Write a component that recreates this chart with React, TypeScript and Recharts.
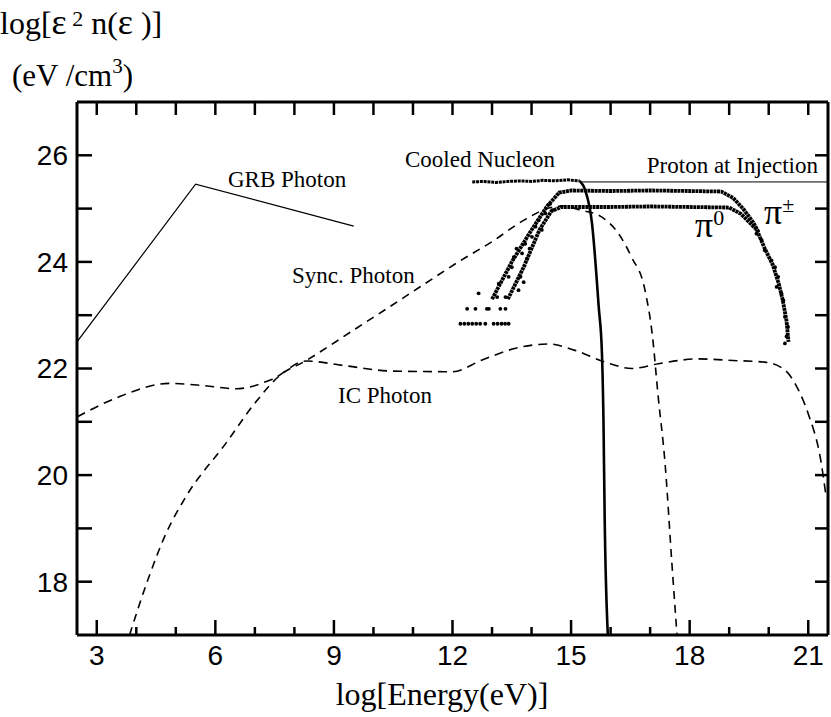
import React from 'react'
import { ComposedChart, Line, Scatter, XAxis, YAxis } from 'recharts'

type Pt = [number, number]

const X_DOMAIN: Pt = [2.5, 21.5]
const Y_DOMAIN: Pt = [17, 27]
const X_TICKS = [3, 4, 5, 6, 7, 8, 9, 10, 11, 12, 13, 14, 15, 16, 17, 18, 19, 20, 21]
const X_LABELS = [3, 6, 9, 12, 15, 18, 21]
const Y_TICKS = [18, 19, 20, 21, 22, 23, 24, 25, 26]

// log E (eV) vs log[e^2 n(e)]
const GRB_PHOTON: Pt[] = [
  [2.5, 22.5],
  [5.5, 25.46],
  [9.5, 24.67],
]

const SYNC_PHOTON: Pt[] = [
  [3.83, 17], [4.3, 18.05], [4.75, 18.9], [5.26, 19.6], [6.27, 20.6], [7.0, 21.35],
  [7.6, 21.85], [8.3, 22.15], [9.6, 22.77], [10.6, 23.25], [11.3, 23.59], [12.15, 24.0],
  [13.0, 24.38], [13.8, 24.78], [14.4, 25.0], [14.8, 25.05], [15.2, 24.98], [15.78, 24.84],
  [16.2, 24.53], [16.53, 24.09], [16.87, 23.47], [17.06, 22.6], [17.2, 21.5], [17.38, 20.2],
  [17.55, 18.35], [17.68, 17],
]

const IC_PHOTON: Pt[] = [
  [2.5, 21.09], [3.5, 21.45], [4.84, 21.72], [5.7, 21.68], [6.52, 21.62], [7.44, 21.8],
  [8.29, 22.14], [9.3, 22.05], [10.5, 21.95], [12.0, 21.94], [12.75, 22.16], [13.6, 22.38],
  [14.43, 22.46], [15.1, 22.34], [15.86, 22.12], [16.54, 22.0], [17.21, 22.09], [18.22, 22.18],
  [19.1, 22.15], [19.9, 22.12], [20.41, 21.97], [20.75, 21.6], [21.0, 21.15], [21.33, 20.22],
  [21.45, 19.6],
]

const COOLED_NUCLEON: Pt[] = [
  [12.5, 25.5], [12.8, 25.51], [13.1, 25.49], [13.4, 25.51], [13.7, 25.52], [14.0, 25.51],
  [14.3, 25.53], [14.6, 25.52], [14.9, 25.54], [15.22, 25.52],
]

const NUCLEON_CUTOFF: Pt[] = [
  [15.22, 25.52], [15.36, 25.34], [15.53, 24.72], [15.7, 23.15], [15.78, 22.3], [15.82, 21.0],
  [15.85, 19.2], [15.93, 17],
]

const PROTON_INJECTION: Pt[] = [
  [15.23, 25.5],
  [21.5, 25.5],
]

const PI_CHARGED: Pt[] = [
  [13.0, 23.3], [13.5, 24.0], [14.0, 24.6], [14.4, 25.05], [14.7, 25.3], [15.0, 25.34],
  [16.0, 25.33], [17.0, 25.34], [18.0, 25.33], [18.8, 25.32], [19.1, 25.2], [19.35, 25.0],
  [19.6, 24.75], [19.75, 24.55],
]

const PI_NEUTRAL: Pt[] = [
  [13.4, 23.3], [13.8, 23.9], [14.2, 24.6], [14.5, 24.95], [14.75, 25.03], [16.0, 25.03],
  [17.0, 25.04], [18.0, 25.03], [19.0, 25.02], [19.3, 24.9], [19.5, 24.75], [19.7, 24.6],
  [19.9, 24.25], [20.1, 23.95], [20.25, 23.6], [20.35, 23.3], [20.45, 22.9], [20.5, 22.5],
]

const PI_SCATTER: Pt[] = [
  [12.2, 22.84], [12.3, 22.84], [12.4, 22.84], [12.5, 22.84], [12.6, 22.84], [12.7, 22.84],
  [12.83, 22.84], [13.04, 22.84], [13.14, 22.84], [13.24, 22.84], [13.33, 22.84], [13.42, 22.84],
  [12.37, 23.12], [12.58, 23.12], [12.87, 23.12], [12.92, 23.12], [13.21, 23.12], [13.34, 23.12],
  [12.66, 23.41], [13.17, 23.59], [13.13, 23.34], [13.34, 23.34], [13.42, 23.72], [13.5, 23.9],
  [13.67, 23.47], [13.72, 23.72], [13.8, 23.62], [13.55, 24.09], [13.76, 24.16], [13.88, 24.06],
  [13.84, 24.34], [14.01, 24.47], [14.1, 24.66], [14.26, 24.6], [14.18, 24.78], [14.35, 24.91],
  [14.47, 25.09], [14.52, 24.97], [13.62, 24.25], [13.95, 24.25],
  [19.69, 24.53], [19.82, 24.41], [19.9, 24.22], [20.07, 24.03], [20.16, 23.9], [20.24, 23.72],
  [20.2, 23.53], [20.32, 23.41], [20.37, 23.28], [20.41, 22.97], [20.49, 22.78], [20.45, 22.6],
  [20.41, 22.47],
]

const rows = (pts: Pt[]) => pts.map(([x, y]) => ({ x, y }))

const SERIF = '"Liberation Serif", "Times New Roman", serif'
const SANS = '"Liberation Sans", Arial, sans-serif'

function BottomTick(props: any) {
  const { x, y, payload } = props
  const major = X_LABELS.includes(payload.value)
  return (
    <g>
      <line x1={x} x2={x} y1={y} y2={y - (major ? 15 : 8)} stroke="#000" strokeWidth={2.5} />
      {major && (
        <text x={x} y={y + 30} textAnchor="middle" fontSize={28} fontFamily={SANS} fill="#000">
          {payload.value}
        </text>
      )}
    </g>
  )
}

const noLabel = () => ''
const dot = (p: any) => <circle cx={p.cx} cy={p.cy} r={1.9} fill="#000" />

export default function App() {
  return (
    <div style={{ position: 'absolute', left: 0, top: 0, width: 831, height: 717, background: '#fff' }}>
      <ComposedChart width={831} height={717} margin={{ top: 100, right: 0, bottom: 0, left: 0 }}>
        <XAxis
          dataKey="x"
          type="number"
          domain={X_DOMAIN}
          allowDataOverflow
          ticks={X_TICKS}
          interval={0}
          height={82}
          tickSize={0}
          tickMargin={0}
          tickLine={false}
          tick={<BottomTick />}
          axisLine={{ stroke: '#000', strokeWidth: 3 }}
        />
        <XAxis
          xAxisId="top"
          dataKey="x"
          orientation="top"
          type="number"
          domain={X_DOMAIN}
          allowDataOverflow
          ticks={X_TICKS}
          interval={0}
          height={2}
          tickSize={-13}
          tickFormatter={noLabel}
          tick={{ fontSize: 1 }}
          tickLine={{ stroke: '#000', strokeWidth: 2.5 }}
          axisLine={{ stroke: '#000', strokeWidth: 3 }}
        />
        <YAxis
          type="number"
          domain={Y_DOMAIN}
          allowDataOverflow
          ticks={Y_TICKS}
          interval={0}
          width={77}
          tickSize={-15}
          tickMargin={24}
          tickFormatter={(v: number) => (v % 2 === 0 ? String(v) : '')}
          tick={{ fontSize: 28, fontFamily: SANS, fill: '#000' }}
          tickLine={{ stroke: '#000', strokeWidth: 2.5 }}
          axisLine={{ stroke: '#000', strokeWidth: 3 }}
        />
        <YAxis
          yAxisId="right"
          orientation="right"
          type="number"
          domain={Y_DOMAIN}
          allowDataOverflow
          ticks={Y_TICKS}
          interval={0}
          width={3}
          tickSize={-13}
          tickFormatter={noLabel}
          tick={{ fontSize: 1 }}
          tickLine={{ stroke: '#000', strokeWidth: 2.5 }}
          axisLine={{ stroke: '#000', strokeWidth: 3 }}
        />

        <Line data={rows(GRB_PHOTON)} dataKey="y" type="linear" stroke="#000" strokeWidth={1.2} dot={false} isAnimationActive={false} />
        <Line data={rows(SYNC_PHOTON)} dataKey="y" type="monotone" stroke="#000" strokeWidth={1.6} strokeDasharray="8 6" dot={false} isAnimationActive={false} />
        <Line data={rows(IC_PHOTON)} dataKey="y" type="monotone" stroke="#000" strokeWidth={1.6} strokeDasharray="9 6" dot={false} isAnimationActive={false} />
        <Line
          data={rows(PROTON_INJECTION)}
          xAxisId="top"
          yAxisId="right"
          dataKey="y"
          type="linear"
          stroke="#000"
          strokeWidth={1}
          dot={false}
          isAnimationActive={false}
        />
        <Line data={rows(COOLED_NUCLEON)} dataKey="y" type="linear" stroke="#000" strokeWidth={3} strokeDasharray="3 0.8" dot={false} isAnimationActive={false} />
        <Line data={rows(NUCLEON_CUTOFF)} dataKey="y" type="monotone" stroke="#000" strokeWidth={2.6} dot={false} isAnimationActive={false} />
        <Line data={rows(PI_CHARGED)} dataKey="y" type="linear" stroke="#000" strokeWidth={3.8} strokeDasharray="3 0.6" dot={false} isAnimationActive={false} />
        <Line data={rows(PI_NEUTRAL)} dataKey="y" type="linear" stroke="#000" strokeWidth={3.8} strokeDasharray="3 0.6" dot={false} isAnimationActive={false} />
        <Scatter data={rows(PI_SCATTER)} dataKey="y" fill="#000" shape={dot} isAnimationActive={false} />
      </ComposedChart>

      <svg width={831} height={717} style={{ position: 'absolute', left: 0, top: 0, pointerEvents: 'none' }}>
        <g fontFamily={SERIF} fill="#000">
          <text x={0} y={34} fontSize={32}>
            log[<tspan fontSize={36}>ε</tspan>
            <tspan fontSize={22} dy={-8}> 2</tspan>
            <tspan dy={8}> n(</tspan>
            <tspan fontSize={36}>ε</tspan>
            <tspan> )]</tspan>
          </text>
          <text x={12} y={86} fontSize={31}>
            (eV /cm<tspan fontSize={21} dy={-13}>3</tspan><tspan dy={13}>)</tspan>
          </text>
          <text x={442} y={705} fontSize={32} textAnchor="middle">log[Energy(eV)]</text>

          <text x={228} y={187} fontSize={23}>GRB Photon</text>
          <text x={405} y={167} fontSize={23}>Cooled Nucleon</text>
          <text x={818} y={173} fontSize={23} textAnchor="end">Proton at Injection</text>
          <text x={292} y={283} fontSize={23}>Sync. Photon</text>
          <text x={338} y={403} fontSize={23}>IC Photon</text>
          <text x={695} y={237} fontSize={36}>
            π<tspan fontSize={22} dy={-12}>0</tspan>
          </text>
          <text x={764} y={224} fontSize={36}>
            π<tspan fontSize={22} dy={-12}>±</tspan>
          </text>
        </g>
      </svg>
    </div>
  )
}
